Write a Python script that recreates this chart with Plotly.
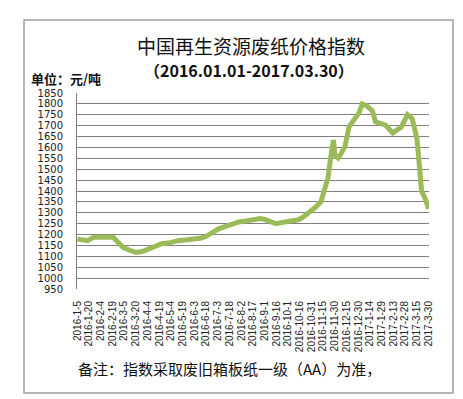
import plotly.graph_objects as go
import datetime as dt

# ---- data ----
dates = ["2016-01-05", "2016-01-12", "2016-01-18", "2016-01-26", "2016-02-04", "2016-02-12",
         "2016-02-20", "2016-02-26", "2016-03-04", "2016-03-12", "2016-03-20", "2016-03-28",
         "2016-04-05", "2016-04-14", "2016-04-22", "2016-05-02", "2016-05-13", "2016-05-25",
         "2016-06-04", "2016-06-12", "2016-06-18", "2016-06-26", "2016-07-04", "2016-07-12",
         "2016-07-20", "2016-07-30", "2016-08-08", "2016-08-17", "2016-08-26", "2016-09-02",
         "2016-09-08", "2016-09-15", "2016-09-24", "2016-10-03", "2016-10-14", "2016-10-20",
         "2016-10-28", "2016-11-05", "2016-11-12", "2016-11-17", "2016-11-21", "2016-11-24",
         "2016-11-28", "2016-11-30", "2016-12-04", "2016-12-08", "2016-12-13", "2016-12-18",
         "2016-12-24", "2016-12-28", "2016-12-31", "2017-01-04", "2017-01-10", "2017-01-17",
         "2017-01-21", "2017-02-03", "2017-02-12", "2017-02-23", "2017-03-03", "2017-03-09",
         "2017-03-15", "2017-03-17", "2017-03-21", "2017-03-25", "2017-03-30"]
values = [1180, 1176, 1172, 1188, 1190, 1189,
          1188, 1165, 1140, 1128, 1118, 1122,
          1132, 1143, 1158, 1162, 1172, 1176,
          1178, 1184, 1192, 1212, 1226, 1236,
          1248, 1258, 1262, 1270, 1274, 1268,
          1258, 1250, 1256, 1262, 1268, 1280,
          1300, 1325, 1350, 1410, 1460, 1540,
          1634, 1565, 1552, 1572, 1606, 1695,
          1725, 1745, 1760, 1800, 1790, 1768,
          1718, 1702, 1667, 1694, 1750, 1732,
          1640, 1565, 1400, 1370, 1318]

# tick labels every 15 days
start = dt.date(2016, 1, 5)
tick_dates = [start + dt.timedelta(days=15 * i) for i in range(31)]
tick_vals = [d.isoformat() for d in tick_dates]
tick_text = [f"{d.year}-{d.month}-{d.day}" for d in tick_dates]

y_min, y_max, y_step = 950, 1850, 50

title_text = "中国再生资源废纸价格指数"
subtitle_text = "（2016.01.01-2017.03.30）"
unit_text = "单位：元/吨"
note_text = "备注：指数采取废旧箱板纸一级（AA）为准，"

fig = go.Figure()
fig.add_trace(go.Scatter(
    x=dates, y=values, mode="lines",
    line=dict(color="#9BBB59", width=5),
    showlegend=False, hoverinfo="skip",
))

W, H = 463, 399
L, R, T, B = 69, 421, 85, 281
pw, ph = R - L, B - T

def px(x):
    return (x - L) / pw

def py(y):
    return (B - y) / ph

cjk = "Noto Sans CJK SC"

fig.update_layout(
    width=W, height=H,
    margin=dict(l=L, r=W - R, t=T, b=H - B, pad=0),
    paper_bgcolor="white", plot_bgcolor="white",
    xaxis=dict(
        type="date",
        range=["2016-01-04 12:00", "2017-03-30 12:00"],
        tickmode="array", tickvals=tick_vals, ticktext=tick_text,
        tickangle=-90, tickfont=dict(family="Liberation Sans", size=10, color="#222"),
        showgrid=False, showline=False, zeroline=False, ticks="",
        ticklabelstandoff=9,
    ),
    yaxis=dict(
        range=[y_min, y_max], dtick=y_step, tick0=y_min,
        tickfont=dict(family="DejaVu Sans", size=10, color="#222"),
        showgrid=True, gridcolor="#808080", gridwidth=1,
        showline=True, linecolor="#808080", linewidth=1,
        zeroline=False, ticks="", ticklabelstandoff=11,
    ),
    shapes=[
        dict(type="rect", xref="paper", yref="paper",
             x0=px(16), x1=px(445), y0=py(385), y1=py(12),
             line=dict(color="#a0a0a0", width=1.5), fillcolor="rgba(0,0,0,0)", layer="below"),
    ],
    annotations=[
        dict(text=title_text, xref="paper", yref="paper", x=px(243), y=py(38),
             xanchor="center", yanchor="middle", showarrow=False,
             font=dict(family=cjk, size=19, color="#111")),
        dict(text="<b>" + subtitle_text + "</b>", xref="paper", yref="paper", x=px(241), y=py(62),
             xanchor="center", yanchor="middle", showarrow=False,
             font=dict(family=cjk, size=16, color="#111")),
        dict(text="<b>" + unit_text + "</b>", xref="paper", yref="paper", x=px(22), y=py(70),
             xanchor="left", yanchor="middle", showarrow=False, borderpad=0,
             font=dict(family=cjk, size=13, color="#111")),
        dict(text=note_text, xref="paper", yref="paper", x=px(68), y=py(360),
             xanchor="left", yanchor="middle", showarrow=False,
             font=dict(family=cjk, size=15, color="#111")),
    ],
)

fig.write_html("out.html")
